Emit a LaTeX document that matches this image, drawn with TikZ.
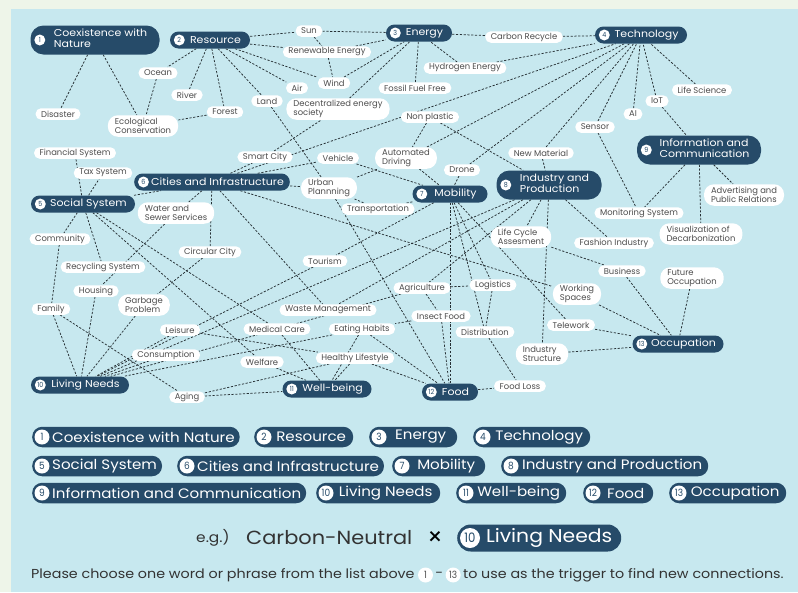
\documentclass[tikz,border=0pt]{standalone}
\usepackage{fontspec}
\setmainfont{Poppins}
\newfontfamily\pop{Poppins}
\newfontfamily\popw[FakeStretch=1.1]{Poppins}
\newfontfamily\popc[FakeStretch=0.9]{Poppins}
\usetikzlibrary{positioning}
\pgfdeclarelayer{panel}
\pgfdeclarelayer{edges}
\pgfsetlayers{panel,edges,main}
\definecolor{outerc}{HTML}{EEF5E9}
\definecolor{panelc}{HTML}{C7E8EF}
\definecolor{hubc}{HTML}{264B69}
\definecolor{labc}{HTML}{4D4D4D}
\definecolor{linec}{HTML}{263035}
\definecolor{darkt}{HTML}{333333}
\tikzset{
  hub/.style={fill=hubc,text=white,rounded corners=8.5pt,font=\popw\fontsize{10}{11}\selectfont,inner xsep=6pt,inner ysep=0pt,minimum height=17pt},
  hubtwo/.style={hub,rounded corners=13pt,minimum height=29pt},
  lab/.style={fill=white,text=labc,rounded corners=5.5pt,font=\pop\fontsize{8.4}{9.5}\selectfont,inner xsep=5.5pt,inner ysep=0pt,minimum height=11.5pt},
  labtwo/.style={lab,align=left,rounded corners=10pt,minimum height=21.5pt,inner xsep=7pt},
  numc/.style={circle,fill=white,text=hubc,inner sep=0pt,minimum size=11pt,font=\popc\fontsize{7}{7}\selectfont},
  link/.style={draw=linec,dash pattern=on 2.2pt off 1.6pt,line width=0.75pt},
  legpill/.style={fill=hubc,text=white,rounded corners=10pt,font=\popw\fontsize{13.7}{15}\selectfont,inner xsep=5pt,inner ysep=0pt,minimum height=20.5pt,anchor=west},
  legnum/.style={circle,fill=white,text=hubc,inner sep=0pt,minimum size=15pt,font=\popc\fontsize{10}{10}\selectfont},
  sentnum/.style={circle,fill=white,text=labc,inner sep=0pt,minimum size=15pt,font=\popc\fontsize{10}{10}\selectfont},
  plain/.style={inner sep=0pt,text=darkt},
  sent/.style={plain,font=\popw\fontsize{13}{14}\selectfont},
}
\begin{document}
\begin{tikzpicture}[x=1pt,y=-1pt]
\useasboundingbox (0,0) rectangle (798,592);
\begin{pgfonlayer}{panel}
\fill[outerc] (0,0) rectangle (798,592);
\fill[panelc] (11,9) rectangle (798,592);
\end{pgfonlayer}
% hubs
\node[hubtwo,minimum width=129pt] (coex) at (95,40) {\hspace*{11pt}\begin{tabular}{@{}l@{}}Coexistence with\\Nature\end{tabular}};
\node[numc] (coexn) at ([xshift=9.5pt]coex.west) {1};
\node[hub,minimum width=80pt] (res) at (210,40) {\hspace*{11pt}Resource};
\node[numc] (resn) at ([xshift=9.5pt]res.west) {2};
\node[hub,minimum width=66pt] (ene) at (419,33) {\hspace*{11pt}Energy};
\node[numc] (enen) at ([xshift=9.5pt]ene.west) {3};
\node[hub,minimum width=92pt] (tech) at (641,35) {\hspace*{11pt}Technology};
\node[numc] (techn) at ([xshift=9.5pt]tech.west) {4};
\node[hub,minimum width=104pt] (soc) at (83,204) {\hspace*{11pt}Social System};
\node[numc] (socn) at ([xshift=9.5pt]soc.west) {5};
\node[hub,minimum width=155pt] (city) at (212,182) {\hspace*{11pt}Cities and Infrastructure};
\node[numc] (cityn) at ([xshift=9.5pt]city.west) {6};
\node[hub,minimum width=75pt] (mob) at (450,194) {\hspace*{11pt}Mobility};
\node[numc] (mobn) at ([xshift=9.5pt]mob.west) {7};
\node[hubtwo,minimum width=105pt] (ind) at (549,185) {\hspace*{11pt}\begin{tabular}{@{}l@{}}Industry and\\Production\end{tabular}};
\node[numc] (indn) at ([xshift=9.5pt]ind.west) {8};
\node[hubtwo,minimum width=124pt] (info) at (699,150) {\hspace*{11pt}\begin{tabular}{@{}l@{}}Information and\\Communication\end{tabular}};
\node[numc] (infon) at ([xshift=9.5pt]info.west) {9};
\node[hub,minimum width=98pt] (liv) at (80,385) {\hspace*{11pt}Living Needs};
\node[numc] (livn) at ([xshift=9.5pt]liv.west) {10};
\node[hub,minimum width=89pt] (well) at (327,389) {\hspace*{11pt}Well-being};
\node[numc] (welln) at ([xshift=9.5pt]well.west) {11};
\node[hub,minimum width=56pt] (food) at (450,392) {\hspace*{11pt}Food};
\node[numc] (foodn) at ([xshift=9.5pt]food.west) {12};
\node[hub,minimum width=91pt] (occ) at (678,344) {\hspace*{11pt}Occupation};
\node[numc] (occn) at ([xshift=9.5pt]occ.west) {13};
% labels
\node[lab] (sun) at (309,31) {Sun};
\node[lab] (renew) at (327,52) {Renewable Energy};
\node[lab] (wind) at (334,83) {Wind};
\node[lab] (air) at (297,88) {Air};
\node[lab] (ocean) at (158,73) {Ocean};
\node[lab] (river) at (187,95) {River};
\node[lab] (forest) at (225,112) {Forest};
\node[lab] (land) at (267,101) {Land};
\node[labtwo] (decen) at (338,109) {Decentralized energy\\society};
\node[lab] (disaster) at (58,114) {Disaster};
\node[labtwo] (eco) at (143,126) {Ecological\\Conservation};
\node[lab] (fossil) at (415,88) {Fossil Fuel Free};
\node[lab] (hydro) at (465,68) {Hydrogen Energy};
\node[lab] (carbon) at (524,37) {Carbon Recycle};
\node[lab] (nonpl) at (430,117) {Non plastic};
\node[labtwo] (auto) at (406,158) {Automated\\Driving};
\node[lab] (drone) at (462,170) {Drone};
\node[lab] (newmat) at (541,153) {New Material};
\node[lab] (sensor) at (595,127) {Sensor};
\node[lab] (ai) at (633,114) {AI};
\node[lab] (iot) at (657,101) {IoT};
\node[lab] (lifesci) at (702,90) {Life Science};
\node[labtwo] (adv) at (744,195) {Advertising and\\Public Relations};
\node[lab] (monit) at (639,213) {Monitoring System};
\node[labtwo] (visual) at (701,234) {Visualization of\\Decarbonization};
\node[lab] (fashion) at (614,243) {Fashion Industry};
\node[labtwo] (lca) at (521,237) {Life Cycle\\Assesment};
\node[lab] (business) at (622,271) {Business};
\node[labtwo] (future) at (692,278) {Future\\Occupation};
\node[labtwo] (working) at (577,294) {Working\\Spaces};
\node[lab] (logist) at (493,285) {Logistics};
\node[lab] (agri) at (422,288) {Agriculture};
\node[lab] (insect) at (441,316) {Insect Food};
\node[lab] (distr) at (485,332) {Distribution};
\node[lab] (telework) at (571,325) {Telework};
\node[labtwo] (indstr) at (542,354) {Industry\\Structure};
\node[lab] (foodloss) at (520,386) {Food Loss};
\node[lab] (transp) at (378,209) {Transportation};
\node[labtwo] (urban) at (329,188) {Urban\\Plannning};
\node[lab] (vehicle) at (338,158) {Vehicle};
\node[lab] (smart) at (265,157) {Smart City};
\node[lab] (tourism) at (325,261) {Tourism};
\node[lab] (waste) at (328,310) {Waste Management};
\node[lab] (medical) at (277,329) {Medical Care};
\node[lab] (eating) at (362,329) {Eating Habits};
\node[lab] (healthy) at (355,358) {Healthy Lifestyle};
\node[lab] (welfare) at (262,362) {Welfare};
\node[lab] (financial) at (75,153) {Financial System};
\node[lab] (tax) at (103,173) {Tax System};
\node[labtwo] (water) at (176,213) {Water and\\Sewer Services};
\node[lab] (community) at (60,239) {Community};
\node[lab] (recyc) at (103,267) {Recycling System};
\node[lab] (circular) at (210,252) {Circular City};
\node[lab] (housing) at (96,291) {Housing};
\node[labtwo] (garbage) at (144,305) {Garbage\\Problem};
\node[lab] (family) at (51,309) {Family};
\node[lab] (leisure) at (180,330) {Leisure};
\node[lab] (consum) at (166,355) {Consumption};
\node[lab] (aging) at (187,397) {Aging};
% edges
\begin{pgfonlayer}{edges}
\foreach \a/\b in {coex/disaster,coex/eco,ocean/eco,forest/eco,res/ocean,res/river,res/forest,res/land,res/air,res/wind,res/renew,res/sun,sun/ene,sun/renew,renew/ene,renew/wind,wind/ene,decen/ene,fossil/ene,hydro/ene,ene/carbon,carbon/tech,hydro/tech,city/tech,auto/tech,drone/tech,newmat/tech,sensor/tech,ai/tech,iot/tech,lifesci/tech,iot/info,sensor/monit,info/monit,info/visual,info/adv,newmat/ind,nonpl/ind,nonpl/auto,soc/city,city/smart,smart/decen,city/vehicle,city/urban,city/water,city/circular,city/waste,city/working,land/urban,urban/auto,urban/transp,urban/food,vehicle/mob,auto/mob,drone/mob,transp/mob,mob/tourism,tourism/liv,mob/logist,mob/telework,mob/food,mob/distr,distr/foodloss,food/foodloss,logist/distr,agri/logist,ind/agri,agri/insect,insect/food,insect/eating,ind/waste,ind/lca,ind/indstr,ind/fashion,lca/business,business/occ,future/occ,working/occ,telework/occ,indstr/occ,ind/liv,agri/liv,family/liv,community/family,soc/community,soc/recyc,soc/financial,soc/tax,housing/liv,water/housing,garbage/liv,circular/garbage,leisure/liv,consum/liv,eating/liv,family/aging,aging/well,aging/healthy,soc/welfare,soc/medical,welfare/well,medical/well,healthy/well,eating/well,leisure/healthy,eating/food,healthy/food}
  {\draw[link] (\a) -- (\b);}
\end{pgfonlayer}
% legend
\node[legpill,minimum width=206pt] (L1) at (32,437) {\hspace*{15pt}Coexistence with Nature};
\node[legnum] (L1n) at ([xshift=10pt]L1.west) {1};
\node[legpill,minimum width=99pt] (L2) at (254,437) {\hspace*{15pt}Resource};
\node[legnum] (L2n) at ([xshift=10pt]L2.west) {2};
\node[legpill,minimum width=88pt] (L3) at (369,437) {\hspace*{15pt}Energy};
\node[legnum] (L3n) at ([xshift=10pt]L3.west) {3};
\node[legpill,minimum width=117pt] (L4) at (473,437) {\hspace*{15pt}Technology};
\node[legnum] (L4n) at ([xshift=10pt]L4.west) {4};
\node[legpill,minimum width=128pt] (L5) at (32,466) {\hspace*{15pt}Social System};
\node[legnum] (L5n) at ([xshift=10pt]L5.west) {5};
\node[legpill,minimum width=200pt] (L6) at (177,466) {\hspace*{15pt}Cities and Infrastructure};
\node[legnum] (L6n) at ([xshift=10pt]L6.west) {6};
\node[legpill,minimum width=93pt] (L7) at (392,466) {\hspace*{15pt}Mobility};
\node[legnum] (L7n) at ([xshift=10pt]L7.west) {7};
\node[legpill,minimum width=207pt] (L8) at (501,466) {\hspace*{15pt}Industry and Production};
\node[legnum] (L8n) at ([xshift=10pt]L8.west) {8};
\node[legpill,minimum width=267pt] (L9) at (32,493) {\hspace*{15pt}Information and Communication};
\node[legnum] (L9n) at ([xshift=10pt]L9.west) {9};
\node[legpill,minimum width=124pt] (L10) at (316,493) {\hspace*{15pt}Living Needs};
\node[legnum] (L10n) at ([xshift=10pt]L10.west) {10};
\node[legpill,minimum width=110pt] (L11) at (456,493) {\hspace*{15pt}Well-being};
\node[legnum] (L11n) at ([xshift=10pt]L11.west) {11};
\node[legpill,minimum width=70pt] (L12) at (583,493) {\hspace*{15pt}Food};
\node[legnum] (L12n) at ([xshift=10pt]L12.west) {12};
\node[legpill,minimum width=117pt] (L13) at (669,493) {\hspace*{15pt}Occupation};
\node[legnum] (L13n) at ([xshift=10pt]L13.west) {13};
% example
\node[plain,anchor=west,font=\popw\fontsize{14}{15}\selectfont] (eg) at (196,538) {e.g.)};
\node[plain,anchor=west,font=\popw\fontsize{19}{20}\selectfont] (cn) at (246,538) {Carbon-Neutral};
\node[plain,font=\pop\fontsize{24}{24}\selectfont,text=black] (times) at (435,538) {×};
\node[legpill,minimum height=27pt,minimum width=164pt,rounded corners=13.5pt,font=\popw\fontsize{18.5}{20}\selectfont] (egp) at (457,538) {\hspace*{20pt}Living Needs};
\node[legnum,minimum size=20pt,font=\popc\fontsize{13}{13}\selectfont] (egpn) at ([xshift=13pt]egp.west) {10};
% sentence
\node[sent,anchor=west] (s1) at (31,575) {Please choose one word or phrase from the list above};
\node[sentnum,right=3pt of s1] (s2) {1};
\node[sent,right=2pt of s2] (s3) {-};
\node[sentnum,right=2pt of s3] (s4) {13};
\node[sent,right=2pt of s4] (s5) {to use as the trigger to find new connections.};
\end{tikzpicture}
\end{document}
